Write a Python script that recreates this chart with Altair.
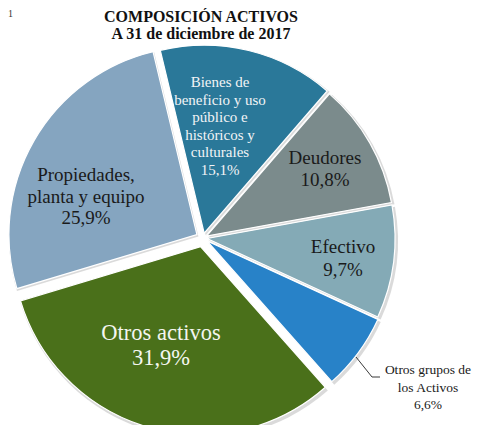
import math
import altair as alt
import pandas as pd

# ---- data ----
categories = [
    "Bienes de beneficio y uso público e históricos y culturales",
    "Deudores",
    "Efectivo",
    "Otros grupos de los Activos",
    "Otros activos",
    "Propiedades, planta y equipo",
]
values = [15.1, 10.8, 9.7, 6.6, 31.9, 25.9]
label_names = [
    ["Bienes de", "beneficio  y uso", "público  e", "históricos  y", "culturales"],
    ["Deudores"],
    ["Efectivo"],
    ["Otros grupos  de", "los  Activos"],
    ["Otros activos"],
    ["Propiedades,", "planta y equipo"],
]
title_lines = ["COMPOSICIÓN ACTIVOS", "A 31 de diciembre  de 2017"]

# ---- style ----
colors = ["#2a7899", "#7b8b8c", "#84aab6", "#2882c8", "#4a701a", "#85a5c0"]
explode = [5, 4, 4, 5, 9, 7]
FONT = "Liberation Serif"
W, H = 465, 417
CX, CY = 195, 230
R = 188
START = math.radians(346.5)
TOTAL = sum(values)

# x, y = position of the first line of each label
label_style = {
    categories[0]: dict(x=212, y=74, size=15, color="#f2f4f6", lh=17.6),
    categories[1]: dict(x=317, y=150, size=19, color="#1a1a1a", lh=22),
    categories[2]: dict(x=335, y=239, size=19, color="#1a1a1a", lh=23),
    categories[3]: dict(x=420, y=362, size=13.5, color="#1a1a1a", lh=17.5),
    categories[4]: dict(x=153, y=325, size=22.5, color="#f4f6f0", lh=25),
    categories[5]: dict(x=78, y=167, size=19, color="#1a1a1a", lh=21.5),
}

def fmt(v):
    return f"{v:.1f}%".replace(".", ",")

df = pd.DataFrame({
    "idx": list(range(len(categories))),
    "cat": categories,
    "value": values,
    "explode": explode,
    "label": ["\n".join(n + [fmt(v)]) for n, v in zip(label_names, values)],
})

base = alt.Chart(df).transform_window(
    cum="sum(value)", sort=[alt.SortField("idx")], frame=[None, 0]
).transform_calculate(
    a0="datum.cum - datum.value",
    a1="datum.cum",
).transform_calculate(
    mid=f"{START} + (datum.a0 + datum.value / 2) / {TOTAL} * 2 * PI"
).transform_calculate(
    px=f"{CX} + datum.explode * sin(datum.mid)",
    py=f"{CY} - datum.explode * cos(datum.mid)",
)

theta_scale = alt.Scale(domain=[0, TOTAL], range=[START, START + 2 * math.pi])

enc = dict(
    theta=alt.Theta("a0:Q", scale=theta_scale),
    theta2=alt.Theta2("a1:Q"),
    x=alt.X("px:Q", scale=None, axis=None),
    y=alt.Y("py:Q", scale=None, axis=None),
)

shadow = base.mark_arc(
    outerRadius=R + 1.5, color="#7a7a7a", opacity=0.28, xOffset=1.5, yOffset=2
).encode(**enc)

arcs = base.mark_arc(outerRadius=R, stroke="white", strokeWidth=1.2).encode(
    color=alt.Color(
        "cat:N", scale=alt.Scale(domain=categories, range=colors), legend=None
    ),
    **enc,
)

layers = [shadow, arcs]

for cat in categories:
    s = label_style[cat]
    layers.append(
        base.transform_filter(alt.datum.cat == cat)
        .mark_text(
            x=s["x"], y=s["y"], fontSize=s["size"], color=s["color"],
            lineHeight=s["lh"], lineBreak="\n", font=FONT,
            align="center", baseline="middle",
        )
        .encode(text="label:N")
    )

# leader line for "Otros grupos de los Activos"
leader1 = alt.Chart(df).mark_rule(color="#222222", strokeWidth=0.9).encode(
    x=alt.value(348), y=alt.value(349), x2=alt.value(364), y2=alt.value(369)
).transform_filter(alt.datum.idx == 3)
leader2 = alt.Chart(df).mark_rule(color="#222222", strokeWidth=0.9).encode(
    x=alt.value(364), y=alt.value(369), x2=alt.value(372), y2=alt.value(369)
).transform_filter(alt.datum.idx == 3)

title_df = pd.DataFrame({"t": title_lines, "i": [0, 1]})
title1 = alt.Chart(title_df).transform_filter(alt.datum.i == 0).mark_text(
    x=193, y=13.5, fontSize=16, fontWeight="bold", font=FONT, color="#111111",
    align="center", baseline="alphabetic",
).encode(text="t:N")
title2 = alt.Chart(title_df).transform_filter(alt.datum.i == 1).mark_text(
    x=193, y=31, fontSize=16, fontWeight="bold", font=FONT, color="#111111",
    align="center", baseline="alphabetic",
).encode(text="t:N")
corner = alt.Chart(pd.DataFrame({"t": ["1"]})).mark_text(
    x=0, y=9, fontSize=10, font=FONT, color="#333333", align="left",
    baseline="alphabetic",
).encode(text="t:N")

chart = alt.layer(*layers, leader1, leader2, title1, title2, corner).properties(
    width=W, height=H, padding=0,
    autosize=alt.AutoSizeParams(type="none"),
).configure_view(stroke=None)

chart.save("out.html", embed_options={"renderer": "svg", "actions": False})
